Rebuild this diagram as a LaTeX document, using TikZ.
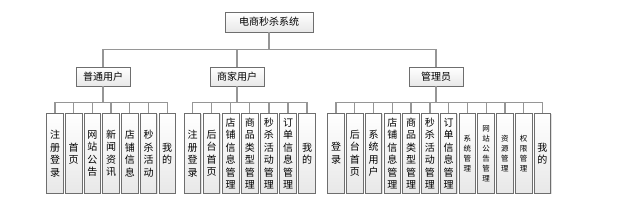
\documentclass[tikz,border=0pt]{standalone}
\usepackage{fontspec}
\setmainfont{Noto Sans CJK SC}
\usetikzlibrary{positioning, calc, shadows}
\definecolor{boxline}{RGB}{110,110,110}
\definecolor{linkgray}{RGB}{150,150,150}
\definecolor{boxbottom}{RGB}{232,232,232}

\tikzset{
  box/.style={draw=boxline, line width=0.9pt, top color=white, bottom color=boxbottom,
    drop shadow={shadow xshift=0.8pt, shadow yshift=-0.8pt, opacity=0.25}},
  top/.style={box, minimum width=88pt, minimum height=20pt, font=\fontsize{10}{12}\selectfont},
  group/.style={box, minimum width=54pt, minimum height=19pt, font=\fontsize{10}{12}\selectfont},
  leaf/.style={box, anchor=north, minimum width=16.5pt, minimum height=80pt, inner sep=0pt,
    align=center, font=\fontsize{10}{12.5}\selectfont},
  leafsm/.style={leaf, font=\fontsize{7.5}{10}\selectfont},
  link/.style={draw=linkgray, line width=1.3pt}
}

\begin{document}
\begin{tikzpicture}[x=1pt, y=-1pt]
  \useasboundingbox (0,0) rectangle (638,205);

  % top levels
  \node[top] (root) at (269,22) {电商秒杀系统};
  \node[group] (g1) at (103,76.5) {普通用户};
  \node[group] (g2) at (237,76.5) {商家用户};
  \node[group] (g3) at (436,76.5) {管理员};

  \foreach \g in {g1,g2,g3}
    \draw[link] (root.south) -- ++(0,17) -| (\g.north);

  % 普通用户
  \foreach \t [count=\i] in {注\\册\\登\\录, 首\\页, 网\\站\\公\\告, 新\\闻\\资\\讯,
      店\\铺\\信\\息, 秒\\杀\\活\\动, 我\\的} {
    \node[leaf] (a\i) at ({55+(\i-1)*18.7},113) {\t};
    \draw[link] (g1.south) -- ++(0,16) -| (a\i.north);
  }

  % 商家用户
  \foreach \t [count=\i] in {注\\册\\登\\录, 后\\台\\首\\页, 店\\铺\\信\\息\\管\\理,
      商\\品\\类\\型\\管\\理, 秒\\杀\\活\\动\\管\\理, 订\\单\\信\\息\\管\\理, 我\\的} {
    \node[leaf] (b\i) at ({192.5+(\i-1)*19.1},113) {\t};
    \draw[link] (g2.south) -- ++(0,16) -| (b\i.north);
  }

  % 管理员
  \foreach \t/\s [count=\i] in {登\\录/leaf, 后\\台\\首\\页/leaf, 系\\统\\用\\户/leaf,
      店\\铺\\信\\息\\管\\理/leaf, 商\\品\\类\\型\\管\\理/leaf, 秒\\杀\\活\\动\\管\\理/leaf,
      订\\单\\信\\息\\管\\理/leaf, 系\\统\\管\\理/leafsm, 网\\站\\公\\告\\管\\理/leafsm,
      资\\源\\管\\理/leafsm, 权\\限\\管\\理/leafsm, 我\\的/leaf} {
    \node[\s] (c\i) at ({336+(\i-1)*18.77},113) {\t};
    \draw[link] (g3.south) -- ++(0,16) -| (c\i.north);
  }
\end{tikzpicture}
\end{document}
